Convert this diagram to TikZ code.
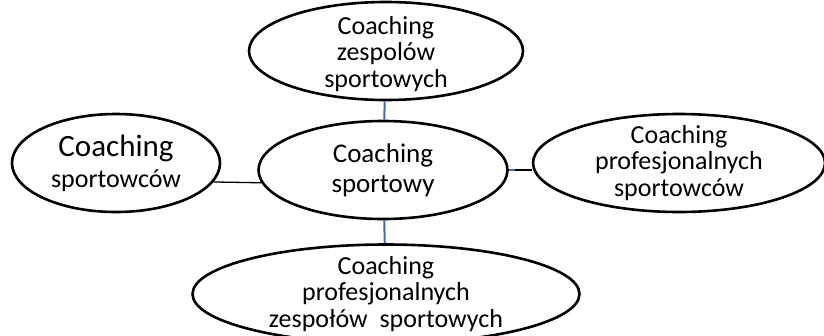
\documentclass[tikz,border=0pt]{standalone}
\usepackage{fontspec}
\setmainfont{Carlito}
\usetikzlibrary{shapes.geometric}
\definecolor{linkblue}{RGB}{68,104,172}

\begin{document}
\begin{tikzpicture}[x=1pt, y=-1pt,
  bubble/.style={ellipse, draw=black, line width=2.6pt, inner sep=0pt, minimum height=98pt},
  txt/.style={align=center, font=\fontsize{26}{26.5}\selectfont, inner sep=0pt},
  bluelink/.style={linkblue, line width=2pt},
  blacklink/.style={black, line width=1.3pt}
]
\clip (0,0) rectangle (824,335);

\node[bubble, minimum width=274pt, label={[txt, yshift=-3pt]center:Coaching\\zespolów\\sportowych}] (team) at (386,51) {};
\node[bubble, minimum width=208pt, label={[txt, font=\fontsize{26}{31}\selectfont]center:{\fontsize{31}{31}\selectfont Coaching}\\sportowców}] (solo) at (116,163) {};
\node[bubble, minimum width=249pt, label={[txt, font=\fontsize{27}{30}\selectfont]center:Coaching\\sportowy}] (hub) at (383,170) {};
\node[bubble, minimum width=292pt, label={[txt]center:Coaching\\profesjonalnych\\sportowców}] (pro) at (679,163) {};
\node[bubble, minimum width=387pt, minimum height=99pt, label={[txt]center:Coaching\\profesjonalnych\\zespołów\ \ sportowych}] (proteam) at (386,294) {};

\draw[bluelink] (team) -- (hub);
\draw[blacklink] (solo.-11) -- (hub.186);
\draw[bluelink] (hub.east) -- ++(6,0) coordinate (rjoin);
\draw[blacklink] (rjoin) -- (rjoin -| pro.west);
\draw[bluelink] (hub) -- (proteam);
\end{tikzpicture}
\end{document}
